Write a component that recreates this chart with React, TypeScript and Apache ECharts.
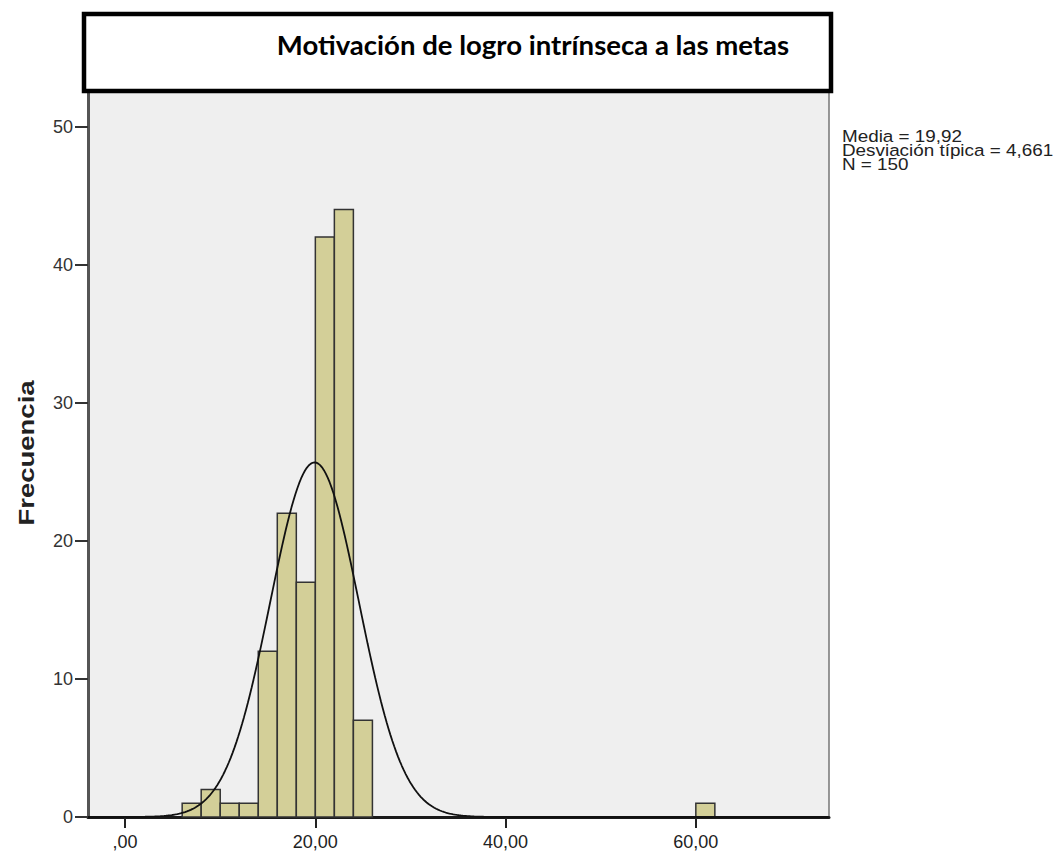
import React, { useEffect, useRef } from "react";
import * as echarts from "echarts";

const binStarts = [6, 8, 10, 12, 14, 16, 18, 20, 22, 24, 60];
const binEnds = [8, 10, 12, 14, 16, 18, 20, 22, 24, 26, 62];
const binCounts = [1, 2, 1, 1, 12, 22, 17, 42, 44, 7, 1];

const xTickValues = [0, 20, 40, 60];
const xTickLabels = [",00", "20,00", "40,00", "60,00"];
const yTickValues = [0, 10, 20, 30, 40, 50];

const meanValue = 19.92;
const sdValue = 4.661;
const nValue = 150;
const binWidth = 2;

const titleText = "Motivación de logro intrínseca a las metas";
const yTitle = "Frecuencia";
const statsLines = ["Media = 19,92", "Desviación típica = 4,661", "N = 150"];

export default function App() {
  const ref = useRef<HTMLDivElement>(null);
  useEffect(() => {
    if (!ref.current) return;
    const chart = echarts.init(ref.current, undefined, { renderer: "svg" });
    const xMin = -3.9;
    const xMax = 74;
    const curve: number[][] = [];
    for (let x = xMin; x <= xMax; x += 0.2) {
      const z = (x - meanValue) / sdValue;
      const y = (nValue * binWidth) / (sdValue * Math.sqrt(2 * Math.PI)) * Math.exp(-0.5 * z * z);
      curve.push([x, y]);
    }
    const barData = binStarts.map((s, i) => [s, binEnds[i], binCounts[i]]);
    const labelFont = "Liberation Sans, Arial, sans-serif";
    chart.setOption({
      animation: false,
      backgroundColor: "#ffffff",
      grid: {
        left: 88,
        right: 229,
        top: 92,
        bottom: 37,
        show: true,
        backgroundColor: "#efefef",
        borderColor: "#777",
        borderWidth: 1.5,
      },
      xAxis: {
        type: "value",
        min: xMin,
        max: xMax,
        splitLine: { show: false },
        axisLine: { show: true, onZero: false, lineStyle: { color: "#1a1a1a", width: 3 } },
        axisTick: {
          show: true,
          length: 11,
          customValues: xTickValues,
          lineStyle: { color: "#222", width: 2 },
        },
        axisLabel: {
          customValues: xTickValues,
          formatter: (v: number) => xTickLabels[xTickValues.indexOf(Math.round(v))] ?? "",
          color: "#222",
          fontSize: 18,
          fontFamily: labelFont,
          margin: 16,
        },
      },
      yAxis: {
        type: "value",
        min: 0,
        max: 52.5,
        splitLine: { show: false },
        axisLine: { show: true, onZero: false, lineStyle: { color: "#555", width: 3 } },
        axisTick: {
          show: true,
          length: 13,
          customValues: yTickValues,
          lineStyle: { color: "#333", width: 2 },
        },
        axisLabel: {
          customValues: yTickValues,
          color: "#333",
          fontSize: 18,
          fontFamily: labelFont,
          margin: 15,
        },
      },
      series: [
        {
          type: "custom",
          data: barData,
          encode: { x: [0, 1], y: 2 },
          z: 2,
          renderItem: (params: any, api: any) => {
            const p0 = api.coord([api.value(0), api.value(2)]);
            const p1 = api.coord([api.value(1), 0]);
            return {
              type: "rect",
              shape: { x: p0[0], y: p0[1], width: p1[0] - p0[0], height: p1[1] - p0[1] },
              style: { fill: "#d3cf98", stroke: "#333", lineWidth: 1.5 },
            };
          },
        },
        {
          type: "line",
          data: curve,
          showSymbol: false,
          symbol: "none",
          z: 3,
          lineStyle: { color: "#111", width: 1.8 },
        },
      ],
      graphic: [
        {
          type: "rect",
          shape: { x: 84, y: 14, width: 747, height: 77 },
          style: { fill: "#ffffff", stroke: "#000", lineWidth: 4.5 },
          z: 10,
        },
        {
          type: "text",
          x: 533,
          y: 45,
          z: 11,
          scaleX: 1.06,
          style: {
            text: titleText,
            fill: "#000",
            font: "bold 26px Lato, 'Open Sans', sans-serif",
            align: "center",
            verticalAlign: "middle",
          },
        },
        {
          type: "text",
          x: 26,
          y: 453,
          rotation: Math.PI / 2,
          scaleX: 1.25,
          style: {
            text: yTitle,
            fill: "#222",
            font: "bold 22px 'Liberation Sans', Arial, sans-serif",
            align: "center",
            verticalAlign: "middle",
          },
        },
        ...statsLines.map((line, i) => ({
          type: "text",
          x: 842,
          y: 128 + i * 14,
          scaleX: 1.11,
          style: {
            text: line,
            fill: "#222",
            font: "17px 'Liberation Sans', Arial, sans-serif",
            align: "left",
            verticalAlign: "top",
          },
        })),
      ],
    });
    return () => chart.dispose();
  }, []);
  return (
    <div
      ref={ref}
      style={{ position: "absolute", left: 0, top: 0, width: 1058, height: 854 }}
    />
  );
}
